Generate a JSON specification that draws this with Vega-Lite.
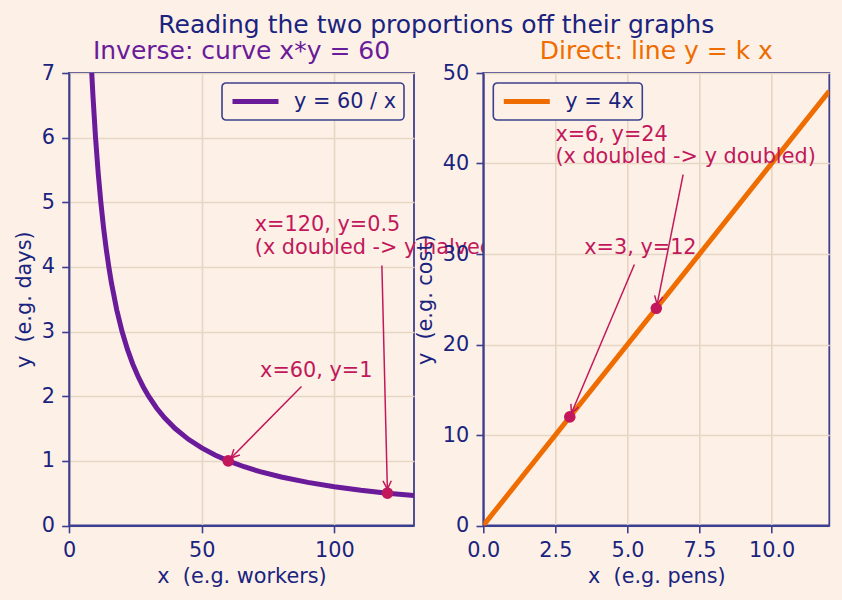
{
  "$schema": "https://vega.github.io/schema/vega-lite/v6.json",
  "background": "#fdf1e7",
  "padding": {"left": 12, "top": 13, "right": 13, "bottom": 12},
  "title": {"text": "Reading the two proportions off their graphs", "fontSize": 25, "fontWeight": "normal", "color": "#1a237e", "anchor": "middle", "frame": "bounds", "dx": 15, "offset": -20, "baseline": "alphabetic"},
  "datasets": {
    "curve": [
      {"x": 8, "y": 7.5, "series": "y = 60 / x"},
      {"x": 8.57, "y": 7.0, "series": "y = 60 / x"},
      {"x": 9, "y": 6.667, "series": "y = 60 / x"},
      {"x": 10, "y": 6.0, "series": "y = 60 / x"},
      {"x": 11, "y": 5.455, "series": "y = 60 / x"},
      {"x": 12, "y": 5.0, "series": "y = 60 / x"},
      {"x": 13, "y": 4.615, "series": "y = 60 / x"},
      {"x": 14, "y": 4.286, "series": "y = 60 / x"},
      {"x": 15, "y": 4.0, "series": "y = 60 / x"},
      {"x": 16, "y": 3.75, "series": "y = 60 / x"},
      {"x": 18, "y": 3.333, "series": "y = 60 / x"},
      {"x": 20, "y": 3.0, "series": "y = 60 / x"},
      {"x": 22, "y": 2.727, "series": "y = 60 / x"},
      {"x": 24, "y": 2.5, "series": "y = 60 / x"},
      {"x": 26, "y": 2.308, "series": "y = 60 / x"},
      {"x": 28, "y": 2.143, "series": "y = 60 / x"},
      {"x": 30, "y": 2.0, "series": "y = 60 / x"},
      {"x": 33, "y": 1.818, "series": "y = 60 / x"},
      {"x": 36, "y": 1.667, "series": "y = 60 / x"},
      {"x": 40, "y": 1.5, "series": "y = 60 / x"},
      {"x": 45, "y": 1.333, "series": "y = 60 / x"},
      {"x": 50, "y": 1.2, "series": "y = 60 / x"},
      {"x": 55, "y": 1.091, "series": "y = 60 / x"},
      {"x": 60, "y": 1.0, "series": "y = 60 / x"},
      {"x": 66, "y": 0.909, "series": "y = 60 / x"},
      {"x": 72, "y": 0.833, "series": "y = 60 / x"},
      {"x": 80, "y": 0.75, "series": "y = 60 / x"},
      {"x": 90, "y": 0.667, "series": "y = 60 / x"},
      {"x": 100, "y": 0.6, "series": "y = 60 / x"},
      {"x": 110, "y": 0.545, "series": "y = 60 / x"},
      {"x": 120, "y": 0.5, "series": "y = 60 / x"},
      {"x": 130, "y": 0.462, "series": "y = 60 / x"}
    ],
    "line": [
      {"x": 0, "y": 0, "series": "y = 4x"},
      {"x": 12, "y": 48, "series": "y = 4x"}
    ],
    "ptsL": [{"x": 60, "y": 1}, {"x": 120, "y": 0.5}],
    "ptsR": [{"x": 3, "y": 12}, {"x": 6, "y": 24}],
    "arrowsL": [
      {"id": "a", "x0": 87.6, "y0": 2.15, "x1": 61.05, "y1": 1.044},
      {"id": "b", "x0": 117.9, "y0": 4.022, "x1": 119.96, "y1": 0.562}
    ],
    "arrowsR": [
      {"id": "c", "x0": 5.24, "y0": 28.84, "x1": 3.056, "y1": 12.41},
      {"id": "d", "x0": 6.93, "y0": 38.78, "x1": 6.028, "y1": 24.43}
    ],
    "notesL": [
      {"x": 72, "y": 2.3, "lines": 1, "label": "x=60, y=1"},
      {"x": 70, "y": 4.2, "lines": 2, "label": "x=120, y=0.5\n(x doubled -> y halved)"}
    ],
    "notesR": [
      {"x": 3.5, "y": 30, "lines": 1, "label": "x=3, y=12"},
      {"x": 2.5, "y": 40, "lines": 2, "label": "x=6, y=24\n(x doubled -> y doubled)"}
    ]
  },
  "spacing": 69.3,
  "bounds": "flush",
  "resolve": {"scale": {"color": "independent"}, "legend": {"color": "independent"}},
  "hconcat": [
    {
      "width": 345,
      "height": 452.5,
      "title": {"text": "Inverse: curve x*y = 60", "color": "#6a1b9a"},
      "layer": [
        {
          "data": {"name": "curve"},
          "mark": {"type": "line", "clip": true, "strokeWidth": 5},
          "encoding": {
            "x": {"field": "x", "type": "quantitative", "scale": {"domain": [0, 130], "nice": false}, "axis": {"values": [0, 50, 100], "format": "d", "title": "x \u00a0(e.g. workers)"}},
            "y": {"field": "y", "type": "quantitative", "scale": {"domain": [0, 7], "nice": false}, "axis": {"values": [0, 1, 2, 3, 4, 5, 6, 7], "format": "d", "title": "y \u00a0(e.g. days)"}},
            "color": {"field": "series", "type": "nominal", "scale": {"range": ["#6a1b9a"]}, "legend": {"orient": "top-right"}}
          }
        },
        {
          "data": {"name": "arrowsL"},
          "mark": {"type": "rule", "color": "#c2185b", "strokeWidth": 1.5},
          "encoding": {
            "x": {"field": "x0", "type": "quantitative"},
            "y": {"field": "y0", "type": "quantitative"},
            "x2": {"field": "x1"},
            "y2": {"field": "y1"}
          }
        },
        {
          "data": {"name": "arrowsL"},
          "transform": [{"filter": "datum.id == 'a'"}],
          "mark": {"type": "point", "shape": "M -2 -1 L 0 0 L -2 1", "filled": false, "color": "#c2185b", "strokeWidth": 1.5, "size": 70, "angle": 134.6, "opacity": 1},
          "encoding": {
            "x": {"field": "x1", "type": "quantitative"},
            "y": {"field": "y1", "type": "quantitative"}
          }
        },
        {
          "data": {"name": "arrowsL"},
          "transform": [{"filter": "datum.id == 'b'"}],
          "mark": {"type": "point", "shape": "M -2 -1 L 0 0 L -2 1", "filled": false, "color": "#c2185b", "strokeWidth": 1.5, "size": 70, "angle": 88.6, "opacity": 1},
          "encoding": {
            "x": {"field": "x1", "type": "quantitative"},
            "y": {"field": "y1", "type": "quantitative"}
          }
        },
        {
          "data": {"name": "ptsL"},
          "mark": {"type": "circle", "size": 135, "color": "#c2185b", "opacity": 1},
          "encoding": {
            "x": {"field": "x", "type": "quantitative"},
            "y": {"field": "y", "type": "quantitative"}
          }
        },
        {
          "data": {"name": "notesL"},
          "transform": [{"filter": "datum.lines == 1"}],
          "mark": {"type": "text", "align": "left", "baseline": "alphabetic", "fontSize": 20.8, "color": "#c2185b"},
          "encoding": {
            "x": {"field": "x", "type": "quantitative"},
            "y": {"field": "y", "type": "quantitative"},
            "text": {"field": "label"}
          }
        },
        {
          "data": {"name": "notesL"},
          "transform": [{"filter": "datum.lines == 2"}],
          "mark": {"type": "text", "align": "left", "baseline": "alphabetic", "fontSize": 20.8, "color": "#c2185b", "lineBreak": "\n", "lineHeight": 22.7, "dy": -22.7},
          "encoding": {
            "x": {"field": "x", "type": "quantitative"},
            "y": {"field": "y", "type": "quantitative"},
            "text": {"field": "label"}
          }
        }
      ]
    },
    {
      "width": 346,
      "height": 452.5,
      "title": {"text": "Direct: line y = k x", "color": "#ef6c00"},
      "layer": [
        {
          "data": {"name": "line"},
          "mark": {"type": "line", "clip": true, "strokeWidth": 5},
          "encoding": {
            "x": {"field": "x", "type": "quantitative", "scale": {"domain": [0, 12], "nice": false}, "axis": {"values": [0, 2.5, 5, 7.5, 10], "format": ".1f", "title": "x \u00a0(e.g. pens)"}},
            "y": {"field": "y", "type": "quantitative", "scale": {"domain": [0, 50], "nice": false}, "axis": {"values": [0, 10, 20, 30, 40, 50], "format": "d", "title": "y \u00a0(e.g. cost)"}},
            "color": {"field": "series", "type": "nominal", "scale": {"range": ["#ef6c00"]}, "legend": {"orient": "top-left"}}
          }
        },
        {
          "data": {"name": "arrowsR"},
          "mark": {"type": "rule", "color": "#c2185b", "strokeWidth": 1.5},
          "encoding": {
            "x": {"field": "x0", "type": "quantitative"},
            "y": {"field": "y0", "type": "quantitative"},
            "x2": {"field": "x1"},
            "y2": {"field": "y1"}
          }
        },
        {
          "data": {"name": "arrowsR"},
          "transform": [{"filter": "datum.id == 'c'"}],
          "mark": {"type": "point", "shape": "M -2 -1 L 0 0 L -2 1", "filled": false, "color": "#c2185b", "strokeWidth": 1.5, "size": 70, "angle": 113.3, "opacity": 1},
          "encoding": {
            "x": {"field": "x1", "type": "quantitative"},
            "y": {"field": "y1", "type": "quantitative"}
          }
        },
        {
          "data": {"name": "arrowsR"},
          "transform": [{"filter": "datum.id == 'd'"}],
          "mark": {"type": "point", "shape": "M -2 -1 L 0 0 L -2 1", "filled": false, "color": "#c2185b", "strokeWidth": 1.5, "size": 70, "angle": 101.3, "opacity": 1},
          "encoding": {
            "x": {"field": "x1", "type": "quantitative"},
            "y": {"field": "y1", "type": "quantitative"}
          }
        },
        {
          "data": {"name": "ptsR"},
          "mark": {"type": "circle", "size": 135, "color": "#c2185b", "opacity": 1},
          "encoding": {
            "x": {"field": "x", "type": "quantitative"},
            "y": {"field": "y", "type": "quantitative"}
          }
        },
        {
          "data": {"name": "notesR"},
          "transform": [{"filter": "datum.lines == 1"}],
          "mark": {"type": "text", "align": "left", "baseline": "alphabetic", "fontSize": 20.8, "color": "#c2185b"},
          "encoding": {
            "x": {"field": "x", "type": "quantitative"},
            "y": {"field": "y", "type": "quantitative"},
            "text": {"field": "label"}
          }
        },
        {
          "data": {"name": "notesR"},
          "transform": [{"filter": "datum.lines == 2"}],
          "mark": {"type": "text", "align": "left", "baseline": "alphabetic", "fontSize": 20.8, "color": "#c2185b", "lineBreak": "\n", "lineHeight": 22.7, "dy": -22.7},
          "encoding": {
            "x": {"field": "x", "type": "quantitative"},
            "y": {"field": "y", "type": "quantitative"},
            "text": {"field": "label"}
          }
        }
      ]
    }
  ],
  "config": {
    "font": "DejaVu Sans",
    "view": {"stroke": "#3c3f8f", "strokeWidth": 1.8, "fill": "#fdf1e7"},
    "axis": {
      "domainColor": "#3c3f8f",
      "domainWidth": 1.8,
      "tickColor": "#3c3f8f",
      "tickWidth": 1.6,
      "tickSize": 7.3,
      "labelPadding": 7.3,
      "labelFontSize": 20.8,
      "labelColor": "#1a237e",
      "labelFlush": false,
      "labelOverlap": false,
      "titleFontSize": 20.8,
      "titleColor": "#1a237e",
      "titleFontWeight": "normal",
      "titlePadding": 7,
      "grid": true,
      "gridColor": "#e8d6c4",
      "gridWidth": 1.6
    },
    "title": {"fontSize": 25, "fontWeight": "normal", "offset": -2, "frame": "group", "anchor": "middle", "baseline": "alphabetic"},
    "legend": {
      "title": null,
      "offset": 10,
      "padding": 8,
      "strokeColor": "#3c3f8f",
      "strokeWidth": 1.6,
      "fillColor": "#fdf1e7",
      "cornerRadius": 4,
      "symbolType": "M -3 0 L 3 0",
      "symbolSize": 235,
      "symbolOffset": 15,
      "symbolStrokeWidth": 5,
      "labelFontSize": 20.8,
      "labelColor": "#1a237e",
      "labelOffset": 28
    }
  }
}
